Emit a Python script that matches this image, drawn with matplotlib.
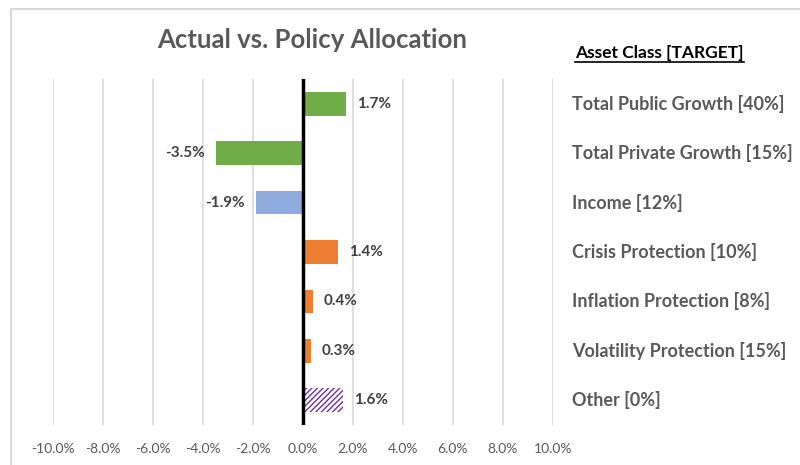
import matplotlib
matplotlib.use("Agg")
import matplotlib.pyplot as plt
from matplotlib.lines import Line2D

categories = ["Total Public Growth [40%]", "Total Private Growth [15%]", "Income [12%]",
              "Crisis Protection [10%]", "Inflation Protection [8%]",
              "Volatility Protection [15%]", "Other [0%]"]
values = [1.7, -3.5, -1.9, 1.4, 0.4, 0.3, 1.6]
bar_colors = ["#70AD47", "#70AD47", "#8FAADC", "#ED7D31", "#ED7D31", "#ED7D31", "none"]
hatched = [False, False, False, False, False, False, True]
xticks = [-10, -8, -6, -4, -2, 0, 2, 4, 6, 8, 10]

plt.rcParams['font.family'] = ['Lato', 'DejaVu Sans']

W, H = 800, 465
fig = plt.figure(figsize=(8, 4.65), dpi=100)
ax = fig.add_axes([53 / W, (H - 425) / H, 500 / W, 346 / H])

ax.set_xlim(-10, 10)
ax.set_ylim(6.5, -0.5)

for xv in xticks:
    if xv != 0:
        ax.axvline(xv, color="#D9D9D9", lw=1.2, zorder=0)

ys = list(range(len(categories)))
for y, v, c, h in zip(ys, values, bar_colors, hatched):
    if h:
        ax.barh(y, v, height=0.48, color="none", edgecolor="#7030A0",
                hatch="//////", lw=0, zorder=2)
    else:
        ax.barh(y, v, height=0.48, color=c, zorder=2)
    lab = f"{v:.1f}%"
    if v >= 0:
        ax.annotate(lab, (v, y), xytext=(8, 0), textcoords="offset points",
                    ha="left", va="center", fontsize=11, fontweight="bold", color="#404040")
    else:
        ax.annotate(lab, (v, y), xytext=(-8, 0), textcoords="offset points",
                    ha="right", va="center", fontsize=11, fontweight="bold", color="#404040")

ax.axvline(0, color="black", lw=2.5, zorder=3)

ax.set_xticks(xticks)
ax.set_xticklabels([f"{t:.1f}%" for t in xticks], fontsize=10, color="#595959")
ax.tick_params(axis="x", length=0, pad=13)
ax.set_yticks([])
for s in ax.spines.values():
    s.set_visible(False)

# right-side category labels
for y, cat in zip(ys, categories):
    ax.annotate(cat, (1.0, y), xycoords=("axes fraction", "data"), xytext=(14, 0),
                textcoords="offset points", ha="left", va="center",
                fontsize=13, fontweight="bold", color="#595959")

fig.text(312 / W, 1 - 40 / H, "Actual vs. Policy Allocation", ha="center", va="center",
         fontsize=18.5, fontweight="bold", color="#595959")
t = fig.text(575 / W, 1 - 53 / H, "Asset Class [TARGET]", ha="left", va="center",
             fontsize=12.5, fontweight="bold", color="black")
fig.canvas.draw()
bb = t.get_window_extent()
x0, x1 = bb.x0 / W, bb.x1 / W
yl = (bb.y0 - 1) / H
fig.add_artist(Line2D([x0, x1], [yl, yl], color="black", lw=1.2, transform=fig.transFigure))

# chart frame
fig.add_artist(Line2D([11 / W, 11 / W, 1.0], [0, 1 - 9 / H, 1 - 9 / H],
                      color="#D9D9D9", lw=1.5, transform=fig.transFigure))

fig.savefig("out.png", dpi=100)
